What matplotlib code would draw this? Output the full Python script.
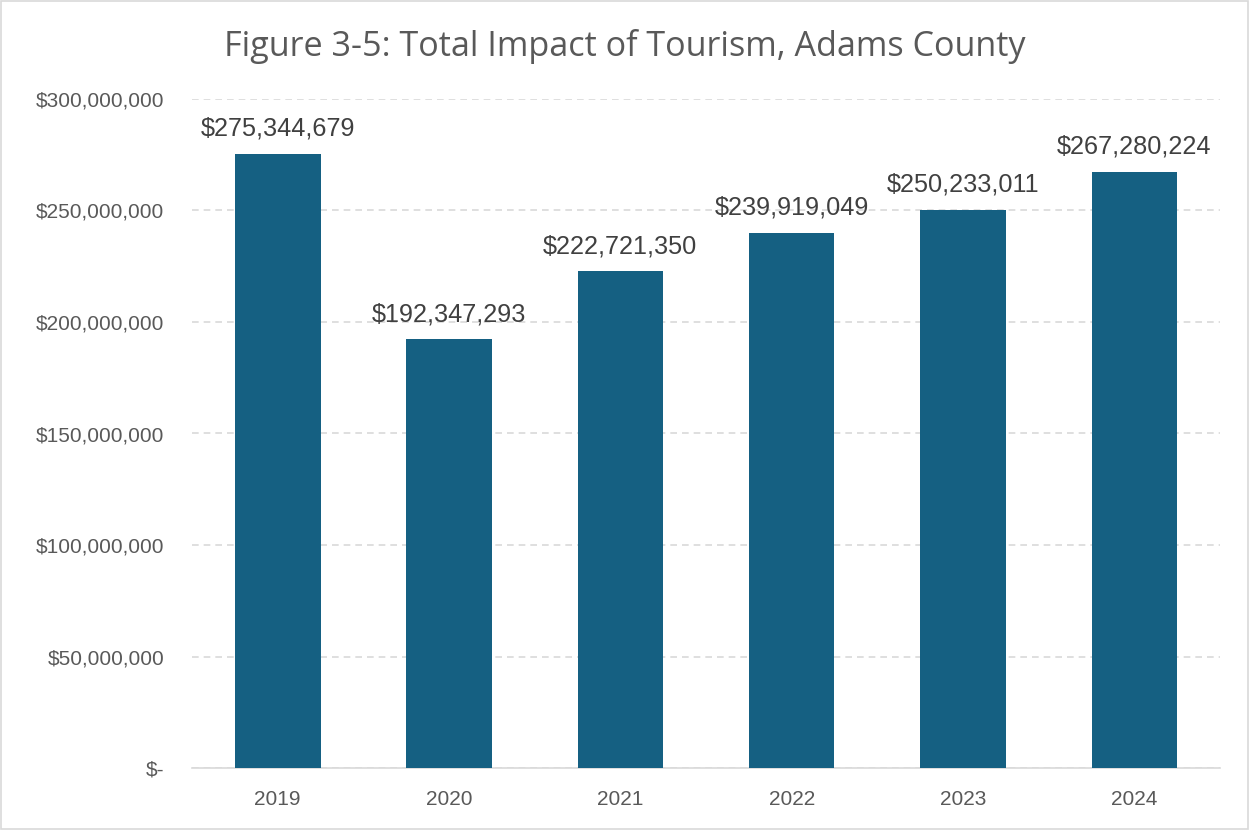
import matplotlib
matplotlib.use("Agg")
import matplotlib.pyplot as plt
from matplotlib.ticker import FuncFormatter
from matplotlib.patches import Rectangle

years = ["2019", "2020", "2021", "2022", "2023", "2024"]
values = [275344679, 192347293, 222721350, 239919049, 250233011, 267280224]
yticks = [0, 50000000, 100000000, 150000000, 200000000, 250000000, 300000000]

plt.rcParams['font.family'] = ['Liberation Sans', 'DejaVu Sans']

fig = plt.figure(figsize=(12.49, 8.30), dpi=100)
ax = fig.add_axes([192/1249, 1-768/830, (1220-192)/1249, (768-99)/830])

x = list(range(len(years)))
ax.bar(x, values, width=0.5, color="#156082", zorder=3)
for xi, v in zip(x, values):
    ax.annotate(f"${v:,.0f}", (xi, v), xytext=(0, 13), textcoords="offset points",
                ha="center", va="baseline", fontsize=18.2, color="#404040")

ax.set_xlim(-0.5, len(years) - 0.5)
ax.set_ylim(0, 300000000)
ax.set_yticks(yticks)
ax.yaxis.set_major_formatter(FuncFormatter(lambda v, p: "$-" if v == 0 else f"${v:,.0f}"))
ax.set_xticks(x)
ax.set_xticklabels(years)
ax.tick_params(axis="both", length=0, labelsize=15, colors="#595959")
ax.tick_params(axis="x", pad=15.5)
ax.tick_params(axis="y", pad=20)
for lab in ax.get_yticklabels():
    lab.set_horizontalalignment("right")
ax.grid(axis="y", color="#d9d9d9", linestyle=(0, (4, 3)), linewidth=1.2, zorder=0)
for s in ["top", "right", "left"]:
    ax.spines[s].set_visible(False)
ax.spines["bottom"].set_color("#d9d9d9")
ax.spines["bottom"].set_linewidth(1.2)

fig.text(0.5, 1-46/830, "Figure 3-5: Total Impact of Tourism, Adams County",
         ha="center", va="center", fontsize=24.6, color="#595959",
         family=["Open Sans", "DejaVu Sans"])
fig.patches.append(Rectangle((0.0008, 0.0012), 0.9984, 0.9976, transform=fig.transFigure,
                             fill=False, edgecolor="#d9d9d9", linewidth=1.2))

fig.savefig("out.png", dpi=100)
